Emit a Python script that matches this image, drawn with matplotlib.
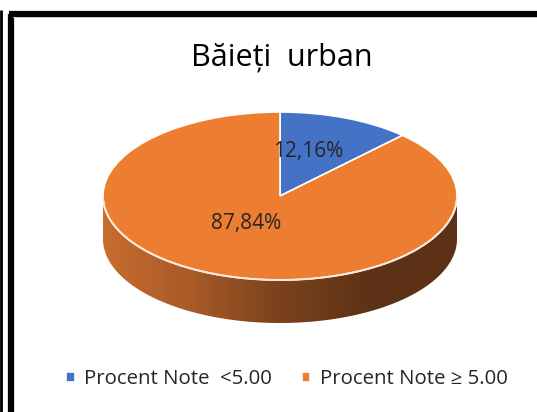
import numpy as np
import matplotlib
matplotlib.use('Agg')
import matplotlib.pyplot as plt
from matplotlib.colors import LinearSegmentedColormap
from matplotlib.patches import Polygon

plt.rcParams['font.family'] = ['Open Sans', 'DejaVu Sans']

title = 'Băieți  urban'
categories = ['Procent Note  <5.00', 'Procent Note ≥ 5.00']
values = [12.16, 87.84]
colors = ['#4472C4', '#ED7D31']

W, H = 537, 412
fig = plt.figure(figsize=(W / 100, H / 100), dpi=100)

# frame of the screenshot
bg = fig.add_axes([0, 0, 1, 1])
bg.set_xlim(0, W)
bg.set_ylim(H, 0)
bg.axis('off')
bg.plot([10.5, 10.5], [13.5, H], color='black', lw=4.5, solid_capstyle='butt')
bg.plot([8.5, W], [13.5, 13.5], color='black', lw=4.5, solid_capstyle='butt')
bg.plot([1, 1], [10, H], color='black', lw=2, solid_capstyle='butt')
bg.plot([13, W], [16.6, 16.6], color='#c8c8c8', lw=0.6)

# pie geometry in pixels
cx, cy, a, b = 280, 196, 177, 84
depth = 43 / b

ax = fig.add_axes([(cx - a) / W, (H - (cy + b + depth * b)) / H,
                   2 * a / W, (2 * b + depth * b) / H])
ax.axis('off')

# side wall of the 3d pie (front half)
t = np.linspace(np.pi, 2 * np.pi, 200)
top = np.column_stack([np.cos(t), np.sin(t)])
bot = np.column_stack([np.cos(t[::-1]), np.sin(t[::-1]) - depth])
side = Polygon(np.vstack([top, bot]), closed=True, facecolor='none',
               edgecolor='none')
ax.add_patch(side)
cmap = LinearSegmentedColormap.from_list(
    'side', ['#c86c2f', '#a85a27', '#7a421c', '#5e3216', '#5c3115'])
grad = np.linspace(0, 1, 256).reshape(1, -1)
im = ax.imshow(grad, cmap=cmap, extent=[-1, 1, -1 - depth, 0],
               aspect='auto', zorder=1)
im.set_clip_path(side)

wedges, texts, autotexts = ax.pie(
    values, colors=colors, startangle=90, counterclock=False,
    autopct=lambda p: f'{p:.2f}%'.replace('.', ','),
    wedgeprops=dict(edgecolor='white', linewidth=1.2),
    textprops=dict(fontsize=15, color='#262626'))
for w in wedges:
    w.set_zorder(2)
autotexts[0].set_position(((308 - cx) / a, (cy - 151) / b))
autotexts[1].set_position(((246 - cx) / a, (cy - 224) / b))
for tx in autotexts:
    tx.set_zorder(3)

ax.plot(np.cos(t), np.sin(t), color='#fbe9dc', lw=1.4, zorder=2.5)

ax.set_aspect('auto')
ax.set_xlim(-1, 1)
ax.set_ylim(-1 - depth, 1)

fig.text(282 / W, 1 - 58 / H, title, ha='center', va='center',
         fontsize=22, color='#000000')

fig.legend(wedges, categories, loc='center', ncol=2,
           bbox_to_anchor=(287 / W, 1 - 379 / H), frameon=False,
           fontsize=14.7, handlelength=0.4, handleheight=0.4,
           handletextpad=0.45, columnspacing=1.5, labelcolor='#262626')

fig.savefig('out.png', dpi=100)
